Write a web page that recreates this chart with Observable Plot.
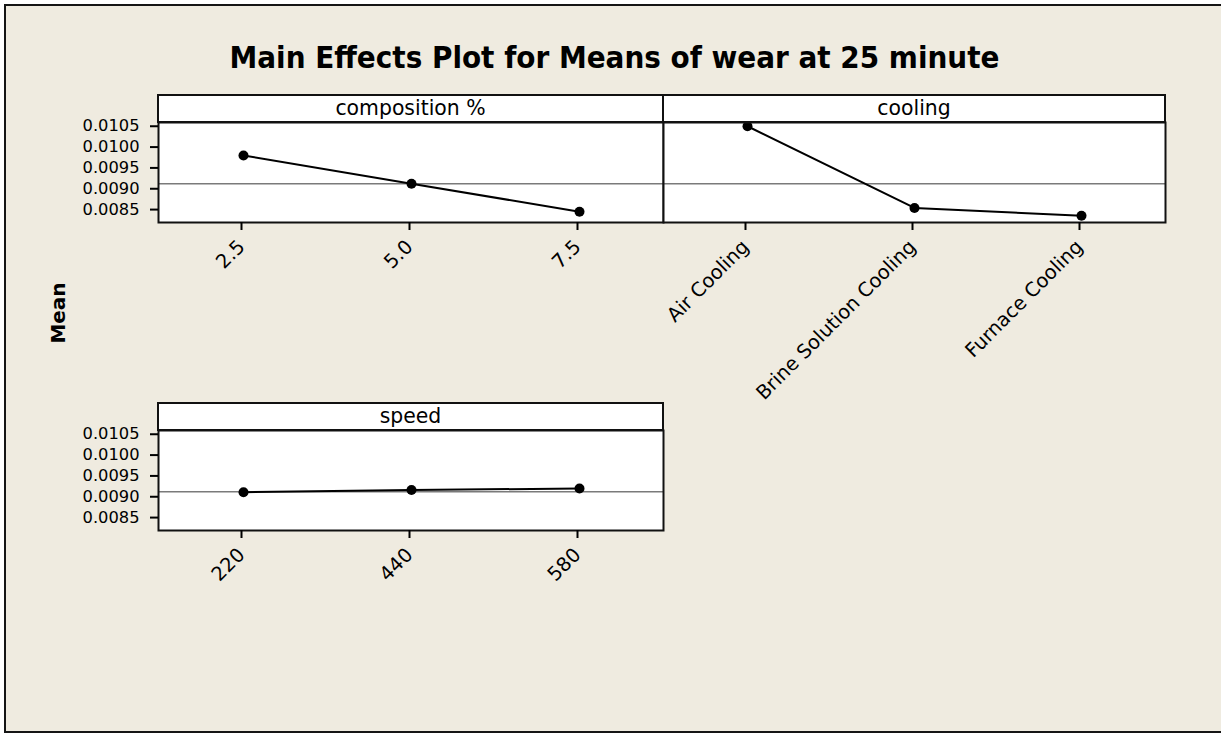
<!DOCTYPE html>
<html><head><meta charset="utf-8">
<script src="https://cdn.jsdelivr.net/npm/d3@7"></script>
<script src="https://cdn.jsdelivr.net/npm/@observablehq/plot@0.6"></script>
<style>
html,body{margin:0;padding:0;background:#fff;width:1221px;height:734px;overflow:hidden;font-family:"DejaVu Sans",sans-serif;}
#page{position:absolute;left:4px;top:4px;width:1217px;height:729px;box-sizing:border-box;background:#EFEBE0;border:2px solid #151515;border-right:none;}
.abs{position:absolute;}
#title{left:4px;width:1221px;top:42px;text-align:center;font-family:"DejaVu Sans Condensed","DejaVu Sans",sans-serif;font-weight:bold;font-size:31px;line-height:1;color:#000;white-space:nowrap;}
#ylab{left:58px;top:313px;transform:translate(-50%,-50%) rotate(-90deg);font-weight:bold;font-size:20px;line-height:1;white-space:nowrap;}
.strip{position:absolute;box-sizing:border-box;height:29px;background:#fff;border:2px solid #111;text-align:center;font-size:20.4px;line-height:25px;color:#000;white-space:nowrap;}
.panel{position:absolute;}
.panel svg{overflow:visible;max-width:none;}
</style></head>
<body>
<div id="page"></div>
<div id="title" class="abs"></div>
<div id="ylab" class="abs">Mean</div>
<div id="root"></div>
<script>
// ---- data ----
const chartTitle = "Main Effects Plot for Means of wear at 25 minute";
const panelTitles = ["composition %", "cooling", "speed"];
const compositionLevels = ["2.5", "5.0", "7.5"];
const compositionMeans = [0.00980, 0.00912, 0.00845];
const coolingLevels = ["Air Cooling", "Brine Solution Cooling", "Furnace Cooling"];
const coolingMeans = [0.01050, 0.00854, 0.00835];
const speedLevels = ["220", "440", "580"];
const speedMeans = [0.00911, 0.00916, 0.00920];
const grandMean = 0.00912;
const yTicks = [0.0085, 0.0090, 0.0095, 0.0100, 0.0105];
const yDomain = [0.00819, 0.01059];

document.getElementById("title").textContent = chartTitle;

function panel(levels, means, showY, width, marginLeft) {
  const data = levels.map((l, i) => ({level: l, mean: means[i]}));
  const marks = [
    Plot.frame({fill: "white", stroke: null}),
    Plot.ruleY([grandMean], {stroke: "#7a7a7a", strokeWidth: 1.6}),
    Plot.line(data, {x: "level", y: "mean", stroke: "black", strokeWidth: 2}),
    Plot.dot(data, {x: "level", y: "mean", r: 5, fill: "black", stroke: null}),
    Plot.frame({stroke: "#111", strokeWidth: 2}),
    Plot.axisX({tickRotate: -45, tickSize: 8, tickPadding: 13, dx: -2, fontSize: 19.5, strokeWidth: 2, label: null})
  ];
  if (showY) marks.push(Plot.axisY({ticks: yTicks, tickFormat: d3.format(".4f"), tickSize: 8, tickPadding: 11, fontSize: 16.3, strokeWidth: 2, label: null}));
  return Plot.plot({
    width, height: 100 + 190,
    marginTop: 0, marginBottom: 190, marginLeft, marginRight: 0,
    style: {background: "transparent", color: "#000", fontFamily: "DejaVu Sans", overflow: "visible"},
    x: {type: "point", domain: levels, padding: 0.5},
    y: {domain: yDomain, axis: null},
    marks
  });
}

const root = document.getElementById("root");
function place(el, left, top) {
  const d = document.createElement("div");
  d.className = "panel";
  d.style.left = left + "px";
  d.style.top = top + "px";
  d.appendChild(el);
  root.appendChild(d);
}
function strip(text, left, top, width) {
  const s = document.createElement("div");
  s.className = "strip";
  s.style.left = left + "px";
  s.style.top = top + "px";
  s.style.width = width + "px";
  s.textContent = text;
  root.appendChild(s);
}

place(panel(compositionLevels, compositionMeans, true, 663, 158), 0, 122);
place(panel(coolingLevels, coolingMeans, false, 502, 0), 663, 122);
place(panel(speedLevels, speedMeans, true, 663, 158), 0, 430);
strip(panelTitles[0], 157, 94, 507);
strip(panelTitles[1], 662, 94, 504);
strip(panelTitles[2], 157, 402, 507);
</script>
</body></html>
